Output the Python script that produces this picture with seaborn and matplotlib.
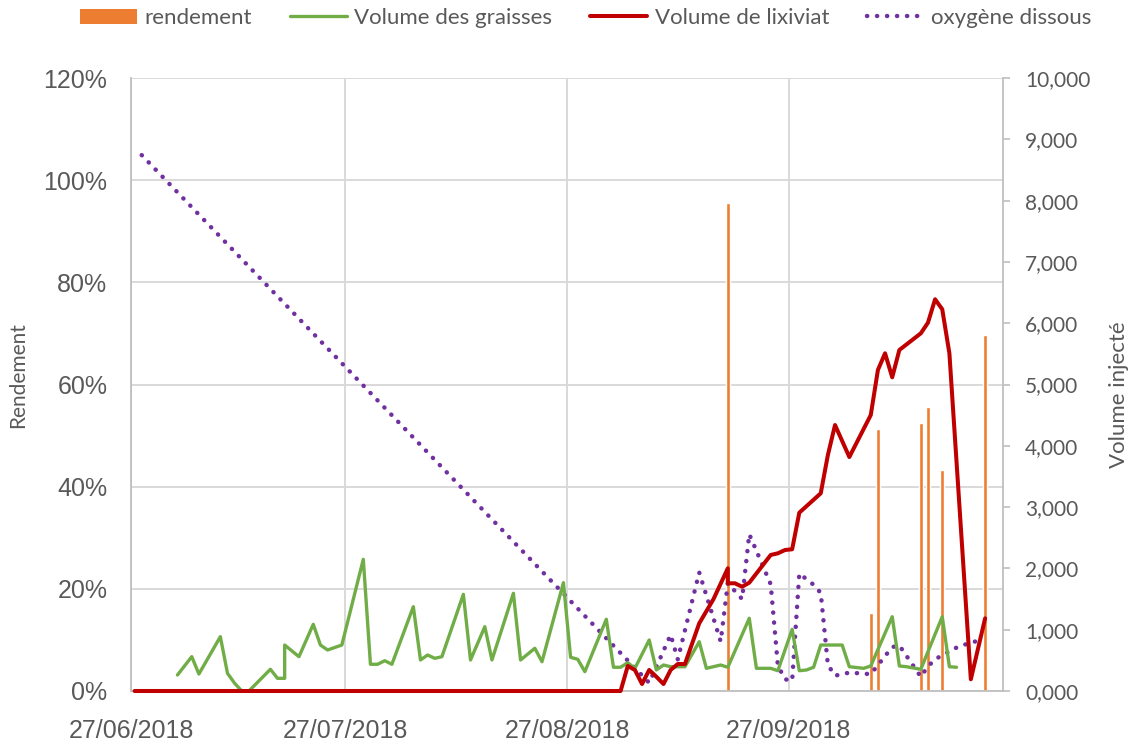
import numpy as np
import pandas as pd
import seaborn as sns
import matplotlib
matplotlib.use("Agg")
import matplotlib.pyplot as plt
import matplotlib.dates as mdates
from matplotlib.ticker import FixedLocator, FuncFormatter, MultipleLocator
from matplotlib.patches import Patch
from matplotlib.lines import Line2D

# day 0 = 27/06/2018
START = "2018-06-27"

graisses_day = [6, 8, 9, 12, 13, 14, 15, 16, 19, 20, 21, 21, 23, 25, 26, 27, 29,
                32, 33, 34, 35, 36, 39, 40, 41, 42, 43, 46, 47, 49, 50, 53, 54,
                56, 57, 60, 61, 62, 63, 66, 67, 68, 69, 70, 72, 73, 74, 75, 77,
                79, 80, 82, 83, 86, 87, 89, 90, 92, 93, 94, 95, 96, 99, 100,
                102, 103, 106, 107, 108, 110, 113, 114, 115]
graisses_vol = [261, 560, 277, 886, 289, 126, 0, 0, 354, 207, 207, 750, 560, 1088,
                750, 669, 750, 2148, 436, 436, 494, 436, 1375, 506, 587, 533, 560,
                1577, 506, 1049, 506, 1594, 506, 697, 478, 1767, 550, 517, 315,
                1170, 387, 387, 462, 370, 832, 343, 424, 396, 396, 804, 370, 424,
                387, 1186, 370, 370, 331, 1006, 331, 343, 387, 750, 750, 396, 370,
                408, 1212, 408, 396, 354, 1212, 396, 387]

lixiviat_day = [0, 68, 69, 70, 71, 72, 73, 74, 75, 76, 77, 79, 81, 83, 83, 84, 85,
                86, 89, 90, 91, 92, 93, 96, 97, 98, 100, 103, 104, 105, 106, 107,
                110, 111, 112, 113, 114, 117, 119]
lixiviat_vol = [0, 0, 408, 343, 114, 343, 233, 114, 343, 440, 440, 1104, 1500,
                2002, 1757, 1757, 1701, 1767, 2219, 2246, 2300, 2312, 2909, 3225,
                3850, 4339, 3817, 4502, 5237, 5509, 5117, 5563, 5835, 6008, 6390,
                6227, 5509, 191, 1186]

oxygene_day = [1, 72, 75, 76, 79, 82, 83, 85, 86, 89, 90, 91, 92, 93, 95, 96, 97,
               98, 100, 101, 103, 106, 107, 110, 111, 112, 113, 115, 117, 118]
oxygene_pct = [104.9, 1.6, 11.0, 6.2, 23.2, 9.7, 21.1, 18.0, 30.7, 20.9, 5.0, 2.3,
               2.0, 23.0, 20.8, 19.2, 5.1, 3.0, 3.6, 3.5, 3.3, 8.6, 8.9, 2.8, 4.8,
               6.2, 7.0, 8.5, 9.5, 9.8]

rendement_day = [83, 103, 104, 110, 111, 113, 119]
rendement_pct = [95.5, 15.3, 51.2, 52.5, 55.5, 43.3, 69.7]

date_ticks = ["2018-06-27", "2018-07-27", "2018-08-27", "2018-09-27"]

ORANGE = "#ED7D31"
GREEN = "#70AD47"
RED = "#C00000"
PURPLE = "#7030A0"
TXT = "#595959"
GRID = "#d9d9d9"
AXIS = "#bfbfbf"
DOTS = (0, (0.05, 2.2))


def to_dates(days):
    # Excel centres each point in its day slot
    return pd.Timestamp(START) + pd.to_timedelta(np.array(days, dtype=float) + 0.5, unit="D")


graisses = pd.DataFrame({"date": to_dates(graisses_day), "vol": graisses_vol})
lixiviat = pd.DataFrame({"date": to_dates(lixiviat_day), "vol": lixiviat_vol})
oxygene = pd.DataFrame({"date": to_dates(oxygene_day), "pct": oxygene_pct})

sns.set_style("white")
plt.rcParams["font.family"] = ["Liberation Sans", "DejaVu Sans"]

fig = plt.figure(figsize=(11.34, 7.42), dpi=100)
ax = fig.add_axes([131 / 1134, 1 - 691 / 742, 872 / 1134, 613 / 742])
ax2 = ax.twinx()

ax.bar(to_dates(rendement_day), rendement_pct, width=0.55, color=ORANGE, zorder=2)
sns.lineplot(data=oxygene, x="date", y="pct", ax=ax, estimator=None, sort=False,
             color=PURPLE, lw=3.2, linestyle=DOTS, dash_capstyle="round", zorder=3)
sns.lineplot(data=graisses, x="date", y="vol", ax=ax2, estimator=None, sort=False,
             color=GREEN, lw=2.4)
sns.lineplot(data=lixiviat, x="date", y="vol", ax=ax2, estimator=None, sort=False,
             color=RED, lw=2.9, clip_on=False)

ax.set_xlim(pd.Timestamp("2018-06-27"), pd.Timestamp("2018-10-27"))
ax.set_ylim(0, 120)
ax2.set_ylim(0, 10000)

ax.xaxis.set_major_locator(FixedLocator(mdates.date2num(pd.to_datetime(date_ticks))))
ax.xaxis.set_major_formatter(mdates.DateFormatter("%d/%m/%Y"))
ax.yaxis.set_major_locator(MultipleLocator(20))
ax.yaxis.set_major_formatter(FuncFormatter(lambda v, p: f"{v:.0f}%"))
ax2.yaxis.set_major_locator(MultipleLocator(1000))
ax2.yaxis.set_major_formatter(FuncFormatter(lambda v, p: f"{int(v) // 1000},{int(v) % 1000:03d}"))

ax.grid(True, color=GRID, lw=1.4)
ax.set_axisbelow(True)
ax.set_xlabel("")
ax.set_ylabel("")
ax2.set_xlabel("")
ax2.set_ylabel("")

ax.tick_params(axis="y", length=0, pad=17, labelsize=18, labelcolor=TXT)
ax.tick_params(axis="x", length=0, pad=20, labelsize=18, labelcolor=TXT)
ax2.tick_params(axis="y", length=5, width=1.2, color=AXIS, pad=11, labelsize=15,
                labelcolor=TXT, direction="out")
for lab in ax2.get_yticklabels():
    lab.set_fontfamily("Lato")

for a in (ax, ax2):
    a.spines["top"].set_visible(False)
    for s in ("left", "right", "bottom"):
        a.spines[s].set_color(AXIS)
        a.spines[s].set_linewidth(1.3)
ax.spines["right"].set_visible(False)
ax2.spines["left"].set_visible(False)
ax2.spines["bottom"].set_visible(False)

fig.text(18 / 1134, 1 - 375 / 742, "Rendement", rotation=90, ha="center", va="center",
         fontsize=15, color=TXT, family="Lato")
fig.text(1119 / 1134, 1 - 395 / 742, "Volume injecté", rotation=90, ha="center",
         va="center", fontsize=16, color=TXT, family="Lato")

handles = [
    Patch(facecolor=ORANGE, edgecolor="none"),
    Line2D([], [], color=GREEN, lw=2.4),
    Line2D([], [], color=RED, lw=2.9),
    Line2D([], [], color=PURPLE, lw=3.2, linestyle=DOTS, dash_capstyle="round"),
]
labels = ["rendement", "Volume des graisses", "Volume de lixiviat", "oxygène dissous"]
leg = fig.legend(handles, labels, loc="center", bbox_to_anchor=(586 / 1134, 1 - 18 / 742),
                 ncol=4, frameon=False, handlelength=2.55, handleheight=0.65,
                 handletextpad=0.35, columnspacing=1.7, borderaxespad=0,
                 prop={"family": "Lato", "size": 16})
for t in leg.get_texts():
    t.set_color(TXT)

fig.savefig("out.png", dpi=100)
